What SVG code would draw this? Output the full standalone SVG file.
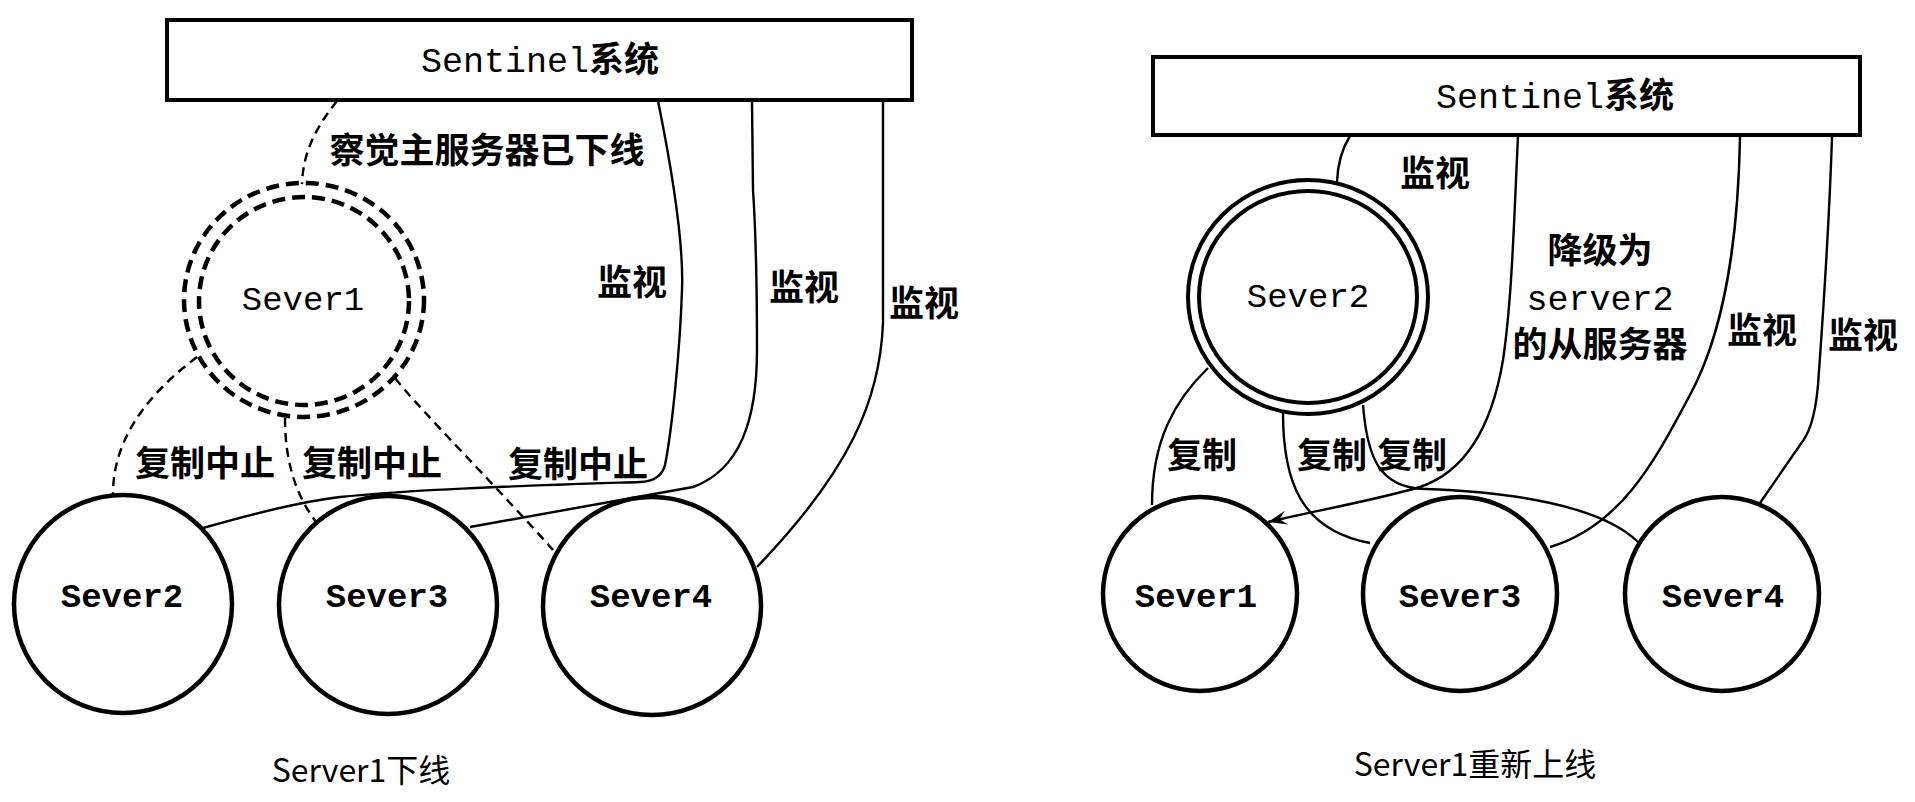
<svg xmlns="http://www.w3.org/2000/svg" width="1915" height="802" viewBox="0 0 1915 802">
<style>
.box{fill:#fff;stroke:#000;stroke-width:4}
.node{fill:#fff;stroke:#000;stroke-width:4.5}
.dnode{fill:none;stroke:#000;stroke-width:4.5;stroke-dasharray:13 7}
.ring{fill:none;stroke:#000;stroke-width:4}
.conn{fill:none;stroke:#000;stroke-width:2.4}
.dash{stroke-dasharray:9 6}
.mono{font-family:"Liberation Mono","Noto Sans CJK SC",monospace;font-size:34px;text-anchor:middle}
.b{font-weight:bold}
.cjk{font-family:"Noto Sans CJK SC",sans-serif;font-size:35px;font-weight:bold;text-anchor:middle}
.cap{font-family:"Noto Sans CJK SC",sans-serif;font-size:32px;text-anchor:middle}
</style>
<defs>
<marker id="arrow" viewBox="-20 -10 22 20" refX="0" refY="0" markerWidth="22" markerHeight="20" markerUnits="userSpaceOnUse" orient="auto">
<path d="M0,0 L-19,-7 L-12,0 L-19,7 Z" fill="#000"/>
</marker>
</defs>
<rect width="1915" height="802" fill="#fff"/>

<g id="connectors">
<!-- left diagram -->
<path class="conn dash" d="M337,101 C318,125 303,150 302,184"/>
<path class="conn" d="M658,101 C672,170 684,240 682,290 C680,350 672,430 665,465 Q661,481 640,482 C520,486 420,489 340,497 Q290,503 203,528"/>
<path class="conn" d="M752,101 L753,190 Q757,250 757,350 C757,420 740,470 693,487 L470,527"/>
<path class="conn" d="M883,101 L883,323 C880,400 850,470 757,567"/>
<path class="conn dash" d="M197,357 C160,385 113,430 113,494"/>
<path class="conn dash" d="M285,418 C285,460 295,495 317,523"/>
<path class="conn dash" d="M395,378 C420,410 500,490 553,550"/>
<!-- right diagram -->
<path class="conn" d="M1350,136 Q1338,155 1337,182"/>
<path class="conn" d="M1518,136 C1514,220 1512,300 1503,360 C1493,420 1470,470 1420,487 C1380,499 1310,512 1268,522" marker-end="url(#arrow)"/>
<path class="conn" d="M1208,368 C1175,400 1152,440 1152,505"/>
<path class="conn" d="M1283,413 C1283,480 1300,530 1370,543"/>
<path class="conn" d="M1363,405 C1367,455 1378,488 1425,489 C1510,492 1600,505 1638,542"/>
<path class="conn" d="M1740,137 C1738,240 1725,330 1690,395 C1660,450 1625,525 1550,547"/>
<path class="conn" d="M1832,137 C1829,230 1822,330 1818,385 C1815,420 1808,435 1800,445 L1760,503"/>
</g>

<g id="left-sentinel">
<rect class="box" x="167" y="20" width="745" height="80"/>
<text class="mono" x="540" y="72" style="font-size:35px">Sentinel<tspan class="b">系统</tspan></text>
</g>
<g id="left-sever1">
<ellipse class="dnode" cx="304" cy="300" rx="120" ry="117"/>
<ellipse class="dnode" cx="304" cy="301" rx="105" ry="104"/>
<text class="mono" x="303" y="310">Sever1</text>
</g>
<g id="left-sever2">
<circle class="node" cx="123" cy="604" r="109"/>
<text class="mono b" x="122" y="607">Sever2</text>
</g>
<g id="left-sever3">
<circle class="node" cx="388" cy="605" r="109"/>
<text class="mono b" x="387" y="607">Sever3</text>
</g>
<g id="left-sever4">
<circle class="node" cx="652" cy="606" r="109"/>
<text class="mono b" x="651" y="607">Sever4</text>
</g>

<g id="right-sentinel">
<rect class="box" x="1153" y="57" width="707" height="78"/>
<text class="mono" x="1555" y="108" style="font-size:35px">Sentinel<tspan class="b">系统</tspan></text>
</g>
<g id="right-sever2">
<ellipse class="node" cx="1308" cy="297" rx="120" ry="117" style="stroke-width:4"/>
<ellipse class="ring" cx="1308" cy="297" rx="109" ry="106"/>
<text class="mono" x="1308" y="307">Sever2</text>
</g>
<g id="right-sever1">
<circle class="node" cx="1200" cy="594" r="97"/>
<text class="mono b" x="1196" y="607">Sever1</text>
</g>
<g id="right-sever3">
<circle class="node" cx="1460" cy="594" r="97"/>
<text class="mono b" x="1460" y="607">Sever3</text>
</g>
<g id="right-sever4">
<circle class="node" cx="1722" cy="594" r="97"/>
<text class="mono b" x="1723" y="607">Sever4</text>
</g>

<g id="labels">
<text class="cjk" x="487" y="163">察觉主服务器已下线</text>
<text class="cjk" x="632" y="295">监视</text>
<text class="cjk" x="804" y="300">监视</text>
<text class="cjk" x="924" y="316">监视</text>
<text class="cjk" x="205" y="476">复制中止</text>
<text class="cjk" x="372" y="476">复制中止</text>
<text class="cjk" x="578" y="477">复制中止</text>
<text class="cjk" x="1435" y="186">监视</text>
<text class="cjk" x="1600" y="263">降级为</text>
<text class="mono" x="1600" y="310" style="font-size:35px">server2</text>
<text class="cjk" x="1600" y="357">的从服务器</text>
<text class="cjk" x="1762" y="343">监视</text>
<text class="cjk" x="1863" y="348">监视</text>
<text class="cjk" x="1202" y="468">复制</text>
<text class="cjk" x="1332" y="468">复制</text>
<text class="cjk" x="1412" y="468">复制</text>
</g>

<g id="captions">
<text class="cap" x="361" y="782">Server1下线</text>
<text class="cap" x="1475" y="776">Server1重新上线</text>
</g>
</svg>
